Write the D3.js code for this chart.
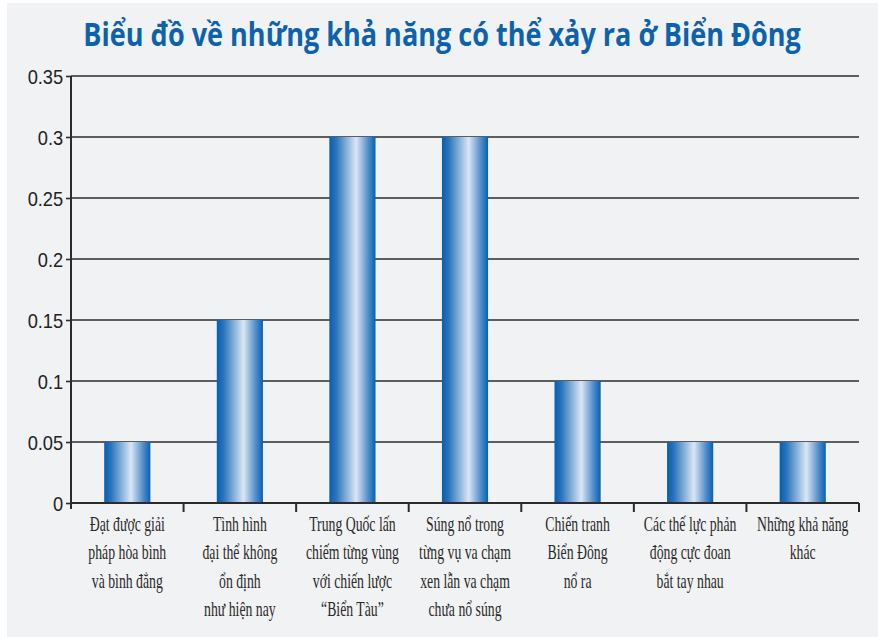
<!DOCTYPE html>
<html><head><meta charset="utf-8">
<script src="https://cdn.jsdelivr.net/npm/d3@7"></script>
<style>html,body{margin:0;padding:0;background:#fff;}svg{display:block;}</style>
</head><body>
<svg id="c" width="878" height="637"></svg>
<script>
const title = "Biểu đồ về những khả năng có thể xảy ra ở Biển Đông";
const categories = [
  ["Đạt được giải", "pháp hòa bình", "và bình đẳng"],
  ["Tình hình", "đại thể không", "ổn định", "như hiện nay"],
  ["Trung Quốc lấn", "chiếm từng vùng", "với chiến lược", "“Biển Tàu”"],
  ["Súng nổ trong", "từng vụ va chạm", "xen lẫn va chạm", "chưa nổ súng"],
  ["Chiến tranh", "Biển Đông", "nổ ra"],
  ["Các thế lực phản", "động cực đoan", "bắt tay nhau"],
  ["Những khả năng", "khác"]
];
const values = [0.05, 0.15, 0.3, 0.3, 0.1, 0.05, 0.05];
const yTickValues = [0, 0.05, 0.1, 0.15, 0.2, 0.25, 0.3, 0.35];
const yTickLabels = ["0", "0.05", "0.1", "0.15", "0.2", "0.25", "0.3", "0.35"];

const svg = d3.select("#c");
svg.append("rect").attr("x", 7).attr("y", 3).attr("width", 871).attr("height", 634).attr("fill", "#f1f2f4");

const defs = svg.append("defs");
const g = defs.append("linearGradient").attr("id", "barGrad").attr("x1", "0").attr("x2", "1").attr("y1", "0").attr("y2", "0");
[[0, "#075eb0"], [0.15, "#2a74bd"], [0.58, "#dbe6f3"], [0.85, "#4d8bc9"], [1, "#0760b2"]].forEach(([o, c]) =>
  g.append("stop").attr("offset", o).attr("stop-color", c));

const mLeft = 71, mRight = 859, mTop = 76, mBottom = 503;
const x = d3.scaleBand().domain(d3.range(categories.length)).range([mLeft, mRight]).paddingInner(0.59).paddingOuter(0.295);
const y = d3.scaleLinear().domain([0, 0.35]).range([mBottom, mTop]);

// gridlines
svg.append("g").selectAll("line").data(yTickValues.filter(v => v > 0)).join("line")
  .attr("x1", mLeft).attr("x2", mRight).attr("y1", d => y(d)).attr("y2", d => y(d))
  .attr("stroke", "#2b2b2b").attr("stroke-width", 1.6);

// y axis
const yAxis = d3.axisLeft(y).tickValues(yTickValues).tickFormat((d, i) => yTickLabels[i]).tickSize(5).tickPadding(4);
const ya = svg.append("g").attr("transform", `translate(${mLeft},0)`).call(yAxis);
ya.select(".domain").remove();
ya.selectAll(".tick line").attr("stroke", "#2b2b2b").attr("stroke-width", 1.6);
ya.selectAll(".tick text").attr("fill", "#222").attr("font-family", "'Liberation Sans', Arial, sans-serif")
  .attr("font-size", 21).attr("dy", "0.36em").attr("transform", "scale(0.87,1)");
svg.append("line").attr("x1", mLeft).attr("x2", mLeft).attr("y1", y(0.35)).attr("y2", mBottom + 6)
  .attr("stroke", "#2b2b2b").attr("stroke-width", 2);

// bars
svg.append("g").selectAll("rect").data(values).join("rect")
  .attr("x", (d, i) => x(i)).attr("width", x.bandwidth())
  .attr("y", d => y(d)).attr("height", d => y(0) - y(d))
  .attr("fill", "url(#barGrad)");

// x axis baseline and boundary ticks
svg.append("line").attr("x1", mLeft).attr("x2", mRight).attr("y1", mBottom).attr("y2", mBottom)
  .attr("stroke", "#2b2b2b").attr("stroke-width", 2);
const step = x.step();
svg.append("g").selectAll("line").data(d3.range(1, categories.length + 1)).join("line")
  .attr("x1", i => mLeft + i * step).attr("x2", i => mLeft + i * step)
  .attr("y1", mBottom).attr("y2", mBottom + 9)
  .attr("stroke", "#2b2b2b").attr("stroke-width", 2);

// category labels
const lab = svg.append("g").selectAll("g").data(categories).join("g")
  .attr("transform", (d, i) => `translate(${x(i) + x.bandwidth() / 2},0) scale(0.64,1)`);
lab.selectAll("text").data(d => d).join("text")
  .attr("x", 0).attr("y", (d, j) => 531 + j * 28.5)
  .attr("text-anchor", "middle")
  .attr("font-family", "'Liberation Serif', 'Times New Roman', serif")
  .attr("font-size", 21.5).attr("fill", "#2a2a2a")
  .text(d => d);

// title (condensed by horizontal scaling to the reference width)
const tg = svg.append("g");
const tt = tg.append("text").attr("x", 0).attr("y", 0).attr("text-anchor", "middle")
  .attr("font-family", "'Open Sans', sans-serif").attr("font-weight", 700)
  .attr("font-size", 32).attr("fill", "#0d62ae")
  .text(title);
const natural = tt.node().getComputedTextLength() || 718;
tg.attr("transform", `translate(442,46) scale(${718 / natural},1)`);
</script>
</body></html>
